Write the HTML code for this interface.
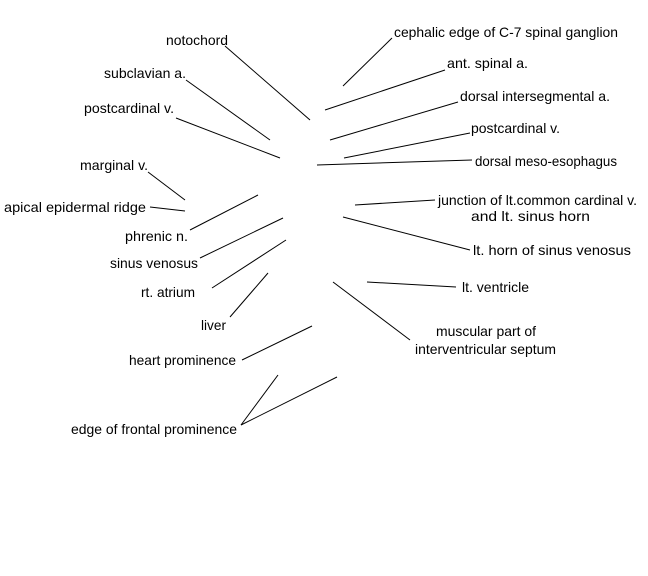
<!DOCTYPE html>
<html><head><style>
html,body{margin:0;padding:0;background:#fff;}
svg{display:block;}
text{font-family:"Liberation Sans",Arial,sans-serif;font-size:13.8px;fill:#000;}
line{stroke:#000;stroke-width:1;}
</style></head><body>
<svg width="648" height="576" viewBox="0 0 648 576" xmlns="http://www.w3.org/2000/svg">
<text x="166" y="45" textLength="62" lengthAdjust="spacingAndGlyphs">notochord</text>
<line x1="225" y1="46" x2="310" y2="120"/>
<text x="104" y="78" textLength="82" lengthAdjust="spacingAndGlyphs">subclavian a.</text>
<line x1="186" y1="80" x2="270" y2="140"/>
<text x="84" y="113" textLength="90" lengthAdjust="spacingAndGlyphs">postcardinal v.</text>
<line x1="176" y1="118" x2="280" y2="158"/>
<text x="80" y="170" textLength="68" lengthAdjust="spacingAndGlyphs">marginal v.</text>
<line x1="148" y1="172" x2="185" y2="200"/>
<text x="4" y="212" textLength="142" lengthAdjust="spacingAndGlyphs">apical epidermal ridge</text>
<line x1="150" y1="207" x2="185" y2="211"/>
<text x="125" y="241" textLength="63" lengthAdjust="spacingAndGlyphs">phrenic n.</text>
<line x1="190" y1="230" x2="258" y2="195"/>
<text x="110" y="268" textLength="88" lengthAdjust="spacingAndGlyphs">sinus venosus</text>
<line x1="200" y1="258" x2="283" y2="218"/>
<text x="141" y="297" textLength="54" lengthAdjust="spacingAndGlyphs">rt. atrium</text>
<line x1="212" y1="288" x2="286" y2="240"/>
<text x="201" y="330" textLength="25" lengthAdjust="spacingAndGlyphs">liver</text>
<line x1="230" y1="317" x2="268" y2="273"/>
<text x="129" y="365" textLength="107" lengthAdjust="spacingAndGlyphs">heart prominence</text>
<line x1="242" y1="360" x2="312" y2="326"/>
<text x="71" y="434" textLength="166" lengthAdjust="spacingAndGlyphs">edge of frontal prominence</text>
<line x1="241" y1="425" x2="278" y2="375"/>
<line x1="241" y1="425" x2="337" y2="377"/>

<text x="394" y="37" textLength="224" lengthAdjust="spacingAndGlyphs">cephalic edge of C-7 spinal ganglion</text>
<line x1="392" y1="38" x2="343" y2="86"/>
<text x="447" y="68" textLength="81" lengthAdjust="spacingAndGlyphs">ant. spinal a.</text>
<line x1="445" y1="70" x2="325" y2="110"/>
<text x="460" y="101" textLength="150" lengthAdjust="spacingAndGlyphs">dorsal intersegmental a.</text>
<line x1="458" y1="102" x2="330" y2="140"/>
<text x="471" y="133" textLength="89" lengthAdjust="spacingAndGlyphs">postcardinal v.</text>
<line x1="470" y1="133" x2="344" y2="158"/>
<text x="475" y="166" textLength="142" lengthAdjust="spacingAndGlyphs">dorsal meso-esophagus</text>
<line x1="472" y1="160" x2="317" y2="165"/>
<text x="438" y="205" textLength="199" lengthAdjust="spacingAndGlyphs">junction of lt.common cardinal v.</text>
<text x="471" y="221" textLength="119" lengthAdjust="spacingAndGlyphs">and lt. sinus horn</text>
<line x1="435" y1="200" x2="355" y2="205"/>
<text x="473" y="255" textLength="158" lengthAdjust="spacingAndGlyphs">lt. horn of sinus venosus</text>
<line x1="470" y1="250" x2="343" y2="217"/>
<text x="462" y="292" textLength="67" lengthAdjust="spacingAndGlyphs">lt. ventricle</text>
<line x1="456" y1="287" x2="367" y2="282"/>
<text x="436" y="336" textLength="100" lengthAdjust="spacingAndGlyphs">muscular part of</text>
<text x="415" y="354" textLength="141" lengthAdjust="spacingAndGlyphs">interventricular septum</text>
<line x1="410" y1="340" x2="333" y2="282"/>
</svg>
</body></html>
